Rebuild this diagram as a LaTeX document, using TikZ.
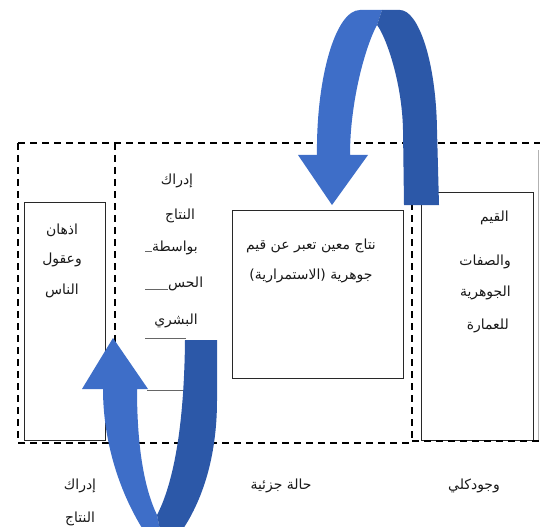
\documentclass[tikz,border=0pt]{standalone}
\usepackage{fontspec}
\setmainfont{Liberation Serif}
\newfontfamily\arabicfont[Script=Arabic]{DejaVu Sans}
\TeXXeTstate=1
\definecolor{bluelight}{RGB}{62,110,200}
\definecolor{bluedark}{RGB}{44,88,168}
\definecolor{boxline}{RGB}{40,40,40}
\tikzset{
  dashline/.style={line width=2.2bp, dash pattern=on 7bp off 5bp, black},
  solidbox/.style={draw=boxline, line width=1.4bp, fill=none, inner sep=0pt},
  ar/.style={font={\arabicfont\fontsize{14}{16}\selectfont}, inner sep=0pt, text=black!90},
  thinline/.style={line width=0.8bp, gray!80!black},
  lightpart/.style={fill=bluelight, draw=none},
  darkpart/.style={fill=bluedark, draw=none},
}
\begin{document}
\begin{tikzpicture}[x=1bp, y=-1bp]
\useasboundingbox (0,0) rectangle (540,527);
\clip (0,0) rectangle (540,527);

% solid boxes
\node[solidbox, minimum width=81bp, minimum height=238bp, anchor=north west] (leftbox) at (24,202) {};
\node[solidbox, minimum width=171bp, minimum height=168bp, anchor=north west] (midbox) at (232,210) {};
\node[solidbox, minimum width=112bp, minimum height=248bp, anchor=north west] (rightbox) at (421,192) {};

% dashed frames
\coordinate (tl) at (18,143);
\coordinate (tr) at (540,143);
\coordinate (bl) at (18,443);
\coordinate (d1t) at (115,143);
\coordinate (d1b) at (115,443);
\coordinate (d2t) at (412,143);
\coordinate (d2b) at (412,443);
\coordinate (br) at (540,441);
\coordinate (d3t) at (538,150);
\coordinate (d3b) at (538,440);
\draw[dashline] (tl) -- (tr);
\draw[dashline] (tl) -- (bl) -- (d2b);
\draw[dashline] (d1t) -- (d1b);
\draw[dashline] (d2t) -- (d2b);
\draw[dashline] (412,441) -- (br);
\draw[line width=0.8bp, gray!60] (d3t) -- (d3b);

% texts in boxes
\node[ar] (l1) at (62,230) {\beginR اذهان\endR};
\node[ar] (l2) at (62,260) {\beginR وعقول\endR};
\node[ar] (l3) at (62,291) {\beginR الناس\endR};

\node[ar] (m1) at (311,246) {\beginR نتاج معين تعبر عن قيم\endR};
\node[ar] (m2) at (311,276) {\beginR جوهرية (الاستمرارية)\endR};

\node[ar, anchor=east] (r1) at (509,218) {\beginR القيم\endR};
\node[ar, anchor=east] (r2) at (511,262) {\beginR والصفات\endR};
\node[ar, anchor=east] (r3) at (511,293) {\beginR الجوهرية\endR};
\node[ar, anchor=east] (r4) at (509,326) {\beginR للعمارة\endR};

% middle column
\node[ar] (c1) at (177,181) {\beginR إدراك\endR};
\node[ar] (c2) at (180,216) {\beginR النتاج\endR};
\node[ar, anchor=west] (c3) at (152,248) {\beginR بواسطة\endR};
\node[ar, anchor=west] (c4) at (168,284) {\beginR الحس\endR};
\node[ar] (c5) at (176,321) {\beginR البشري\endR};
\coordinate (k1) at (145,251);
\draw[thinline] (k1) -- (k1 -| c3.west);
\coordinate (k2) at (145,289);
\draw[thinline] (k2) -- (k2 -| c4.west);

% bottom labels
\node[ar] (b1) at (80,486) {\beginR إدراك\endR};
\node[ar] (b2) at (80,519) {\beginR النتاج\endR};
\node[ar] (b3) at (281,486) {\beginR حالة جزئية\endR};
\node[ar] (b4) at (474,486) {\beginR وجودكلي\endR};

% thin lines at the lower arrow
\coordinate (g1) at (145,338);
\coordinate (g2) at (186,338);
\coordinate (g3) at (147,390);
\coordinate (g4) at (186,390);
\draw[thinline] (g1) -- (g2);
\draw[thinline] (g3) -- (g4);

% top curved arrow
\fill[lightpart] (332,205) -- (298,155) -- (317,155)
  .. controls (316,80) and (335,10) .. (360,10) -- (382,10) -- (377,25)
  .. controls (366,45) and (350,100) .. (350,155) -- (368,155) -- cycle;
\fill[darkpart] (382,10) -- (400,10)
  .. controls (418,10) and (436,60) .. (437,130) -- (439,205) -- (404,205) -- (403,130)
  .. controls (402,80) and (385,35) .. (377,25) -- cycle;

% bottom curved arrow
\fill[lightpart] (113,338) -- (148,389) -- (137,389)
  .. controls (137,450) and (145,490) .. (157,515) -- (162,540) -- (150,540)
  .. controls (125,505) and (103,450) .. (103,389) -- (82,389) -- cycle;
\fill[darkpart] (162,540) -- (157,515)
  .. controls (170,490) and (184,440) .. (185,340) -- (217,340) -- (217,400)
  .. controls (217,470) and (195,515) .. (175,540) -- cycle;
\end{tikzpicture}
\end{document}
